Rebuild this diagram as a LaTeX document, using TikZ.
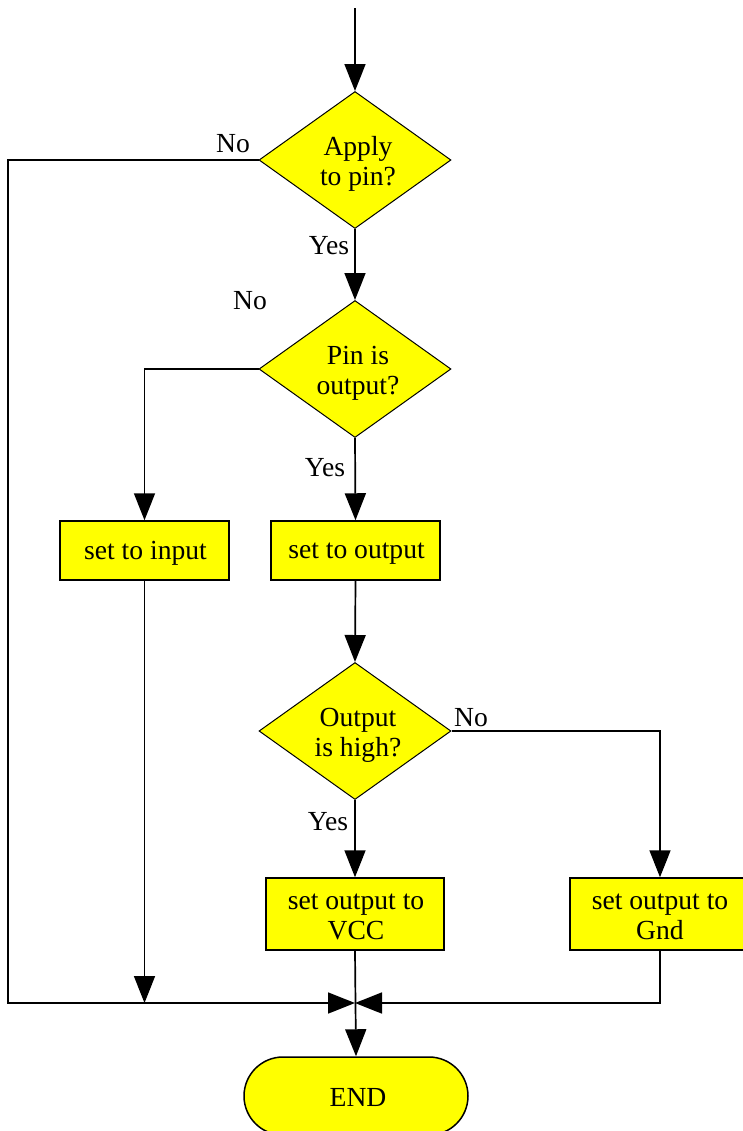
\documentclass[tikz,border=0pt]{standalone}
\usepackage{fontspec}
\setmainfont{Liberation Serif}
\usetikzlibrary{shapes.geometric,arrows.meta}
\begin{document}
\begin{tikzpicture}[x=0.5pt,y=-0.5pt,
  font=\fontsize{13.8}{15}\selectfont,
  dia/.style={diamond,draw=black,line width=0.5pt,fill=yellow,aspect=1.4,inner sep=0pt,
    minimum width=96pt,minimum height=68.5pt},
  procbox/.style={rectangle,draw=black,line width=0.75pt,fill=yellow,inner sep=0pt},
  termbox/.style={rectangle,rounded corners=19.5pt,draw=black,line width=0.75pt,fill=yellow,
    minimum width=112pt,minimum height=39pt,inner sep=0pt},
  txt/.style={align=center,inner sep=0pt},
  conn/.style={draw=black,line width=0.85pt},
  arr/.style={conn,-{Triangle[length=13.5pt,width=10.5pt]}},
  lbl/.style={inner sep=0pt}
]
\useasboundingbox (0,0) rectangle (743,1131);
\definecolor{yellow}{RGB}{255,255,0}

\coordinate (start) at (355,8);
\node[dia] (d1) at (355,160) {};
\node[dia] (d2) at (355,369) {};
\node[procbox,minimum width=84.5pt,minimum height=29.5pt] (in) at (144.5,550.5) {};
\node[procbox,minimum width=84.5pt,minimum height=29.5pt] (out) at (355.5,550.5) {};
\node[dia] (d3) at (355,731) {};
\node[procbox,minimum width=89pt,minimum height=36pt] (vcc) at (355,914) {};
\node[procbox,minimum width=90pt,minimum height=36pt] (gnd) at (660,914) {};
\coordinate (m) at (355,1003);
\node[termbox] (end) at (356,1096) {};

\node[txt] (t1) at (358,164) {Apply\\to pin?};
\node[txt] (t2) at (358,373) {Pin is\\output?};
\node[txt] (t3) at (358,735) {Output\\is high?};
\node[txt] (t4) at (145.5,553.5) {set to input};
\node[txt] (t5) at (356.5,553.5) {set to output};
\node[txt] (t6) at (356,917) {set output to\\VCC};
\node[txt] (t7) at (660,917) {set output to\\Gnd};
\node[txt] (t8) at (358,1097) {END};

\coordinate (lc) at (8,1003);

\draw[arr] (start) -- (d1.north);
\draw[arr] (d1.west) -| (lc) -- (m);
\draw[arr] (d1.south) -- (d2.north);
\draw[arr] (d2.west) -| (in.north);
\draw[arr] (d2.south) -- (out.north);
\draw[arr] (out.south) -- (d3.north);
\draw[arr] (d3.east) -| (gnd.north);
\draw[arr] (d3.south) -- (vcc.north);
\draw[arr] (in.south) -- (in.south |- m);
\draw[arr] (gnd.south) |- (m);
\draw[arr] (vcc.south) -- (end.north);

\node[lbl] (l1) at (233,144) {No};
\node[lbl] (l2) at (329,246) {Yes};
\node[lbl] (l3) at (250,301) {No};
\node[lbl] (l4) at (325,468) {Yes};
\node[lbl] (l5) at (471,718) {No};
\node[lbl] (l6) at (328,822) {Yes};
\end{tikzpicture}
\end{document}
